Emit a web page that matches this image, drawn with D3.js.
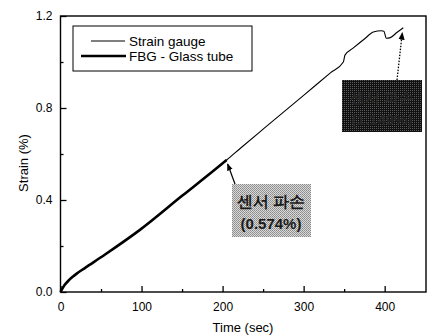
<!DOCTYPE html>
<html>
<head>
<meta charset="utf-8">
<script src="https://cdn.jsdelivr.net/npm/d3@7"></script>
<style>
  body { margin: 0; background: #fff; }
  text { font-family: "Liberation Sans", Arial, sans-serif; }
</style>
</head>
<body>
<div id="chart"></div>
<script>
// strain gauge readings (time in sec, strain in %)
var gaugeTime   = [0, 5, 10, 15, 20, 30, 55, 98, 150, 188, 205, 222, 250, 300, 333, 349, 351, 361, 375, 386, 396, 399, 402, 407, 415, 423];
var gaugeStrain = [0, 0.03, 0.05, 0.066, 0.08, 0.104, 0.163, 0.27, 0.418, 0.525, 0.574, 0.625, 0.708, 0.855, 0.953, 1.0, 1.03, 1.06, 1.1, 1.13, 1.136, 1.134, 1.103, 1.106, 1.128, 1.149];
// FBG stops when the sensor breaks
var fbgTime   = [0, 5, 10, 15, 20, 30, 55, 98, 150, 188, 205];
var fbgStrain = [0, 0.03, 0.05, 0.066, 0.08, 0.104, 0.163, 0.27, 0.418, 0.525, 0.574];

var xTicks = [0, 100, 200, 300, 400];
var yTicks = [0.0, 0.4, 0.8, 1.2];
var seriesNames = ["Strain gauge", "FBG - Glass tube"];

var width = 428, height = 335;
var margin = {top: 16, right: 2, bottom: 43, left: 60.5};

var svg = d3.select("#chart").append("svg")
    .attr("width", width)
    .attr("height", height);

var x = d3.scaleLinear().domain([0, 451]).range([margin.left, width - margin.right]);
var y = d3.scaleLinear().domain([0, 1.2]).range([height - margin.bottom, margin.top]);

var defs = svg.append("defs");
defs.append("marker")
    .attr("id", "arrow")
    .attr("viewBox", "0 0 10 10")
    .attr("refX", 9).attr("refY", 5)
    .attr("markerWidth", 6).attr("markerHeight", 6)
    .attr("orient", "auto")
  .append("path")
    .attr("d", "M0,1 L10,5 L0,9 Z")
    .attr("fill", "#000");

// axes, ticks pointing inward
var xAxis = d3.axisBottom(x).tickValues(xTicks).tickSizeInner(-6).tickSizeOuter(0).tickPadding(10);
var xMinor = d3.axisBottom(x).tickValues([50, 150, 250, 350]).tickSize(-3).tickFormat("");
var yAxis = d3.axisLeft(y).tickValues(yTicks).tickSizeInner(-6).tickSizeOuter(0).tickPadding(8).tickFormat(d3.format(".1f"));
var yMinor = d3.axisLeft(y).tickValues([0.2, 0.6, 1.0]).tickSize(-3).tickFormat("");

function styleAxis(g) {
  g.select(".domain").remove();
  g.selectAll("line").attr("stroke", "#000").attr("stroke-width", 1.3);
  g.selectAll("text").attr("font-size", 12).attr("fill", "#000");
}

svg.append("g").attr("transform", "translate(0," + y(0) + ")").call(xAxis).call(styleAxis);
svg.append("g").attr("transform", "translate(0," + y(0) + ")").call(xMinor).call(styleAxis);
svg.append("g").attr("transform", "translate(" + x(0) + ",0)").call(yAxis).call(styleAxis);
svg.append("g").attr("transform", "translate(" + x(0) + ",0)").call(yMinor).call(styleAxis);

// frame
svg.append("rect")
    .attr("x", x(0)).attr("y", y(1.2))
    .attr("width", x(451) - x(0)).attr("height", y(0) - y(1.2))
    .attr("fill", "none").attr("stroke", "#000").attr("stroke-width", 1.4);

// axis titles
svg.append("text")
    .attr("x", 243).attr("y", 332)
    .attr("text-anchor", "middle").attr("font-size", 13)
    .text("Time (sec)");
svg.append("text")
    .attr("transform", "translate(28,163) rotate(-90)")
    .attr("text-anchor", "middle").attr("font-size", 13)
    .text("Strain (%)");

var line = d3.line()
    .x(function(d) { return x(d[0]); })
    .y(function(d) { return y(d[1]); })
    .curve(d3.curveMonotoneX);

svg.append("path")
    .datum(d3.zip(gaugeTime, gaugeStrain))
    .attr("d", line)
    .attr("fill", "none").attr("stroke", "#000").attr("stroke-width", 1.1)
    .attr("stroke-linejoin", "round");

svg.append("path")
    .datum(d3.zip(fbgTime, fbgStrain))
    .attr("d", line)
    .attr("fill", "none").attr("stroke", "#000").attr("stroke-width", 2.6)
    .attr("stroke-linejoin", "round");

// legend
var legend = svg.append("g");
legend.append("rect")
    .attr("x", 73).attr("y", 26).attr("width", 179).attr("height", 45)
    .attr("fill", "#fff").attr("stroke", "#000").attr("stroke-width", 1);
legend.append("line").attr("x1", 91).attr("x2", 125).attr("y1", 41).attr("y2", 41)
    .attr("stroke", "#000").attr("stroke-width", 1);
legend.append("line").attr("x1", 81).attr("x2", 126).attr("y1", 56).attr("y2", 56)
    .attr("stroke", "#000").attr("stroke-width", 2.4);
legend.selectAll("text.lg").data(seriesNames).enter().append("text")
    .attr("x", 129).attr("y", function(d, i) { return 45.5 + i * 15; })
    .attr("font-size", 13.5)
    .text(function(d) { return d; });

// annotation: FBG break point
var halftone = defs.append("pattern")
    .attr("id", "dots").attr("width", 2).attr("height", 2)
    .attr("patternUnits", "userSpaceOnUse");
halftone.append("rect").attr("width", 2).attr("height", 2).attr("fill", "#d8d8d8");
halftone.append("rect").attr("width", 1).attr("height", 1).attr("fill", "#8a8a8a");
halftone.append("rect").attr("x", 1).attr("y", 1).attr("width", 1).attr("height", 1).attr("fill", "#9a9a9a");

svg.append("rect")
    .attr("x", 232).attr("y", 184).attr("width", 79).attr("height", 53)
    .attr("fill", "url(#dots)");
svg.append("line")
    .attr("x1", 235).attr("y1", 184).attr("x2", x(205) + 1).attr("y2", y(0.574) + 4)
    .attr("stroke", "#000").attr("stroke-width", 1.2)
    .attr("marker-end", "url(#arrow)");
svg.append("text")
    .attr("x", 271).attr("y", 207).attr("text-anchor", "middle")
    .attr("font-size", 15.5).attr("font-weight", "bold").attr("fill", "#1a1a1a")
    .attr("font-family", "'Noto Sans CJK KR', sans-serif")
    .text("센서 파손");
svg.append("text")
    .attr("x", 271).attr("y", 229).attr("text-anchor", "middle")
    .attr("font-size", 15).attr("font-weight", "bold").attr("fill", "#1a1a1a")
    .text("(0.574%)");

// annotation: strain gauge end (printed dark)
var dark = defs.append("pattern")
    .attr("id", "darkdots").attr("width", 2).attr("height", 2)
    .attr("patternUnits", "userSpaceOnUse");
dark.append("rect").attr("width", 2).attr("height", 2).attr("fill", "#111");
dark.append("rect").attr("width", 1).attr("height", 1).attr("fill", "#5a5a5a");

svg.append("rect")
    .attr("x", 342).attr("y", 80).attr("width", 80).attr("height", 52)
    .attr("fill", "url(#darkdots)");
svg.append("line")
    .attr("x1", 397).attr("y1", 80).attr("x2", x(423) - 1).attr("y2", y(1.149) + 5)
    .attr("stroke", "#000").attr("stroke-width", 1.3)
    .attr("stroke-dasharray", "1.5,1.5")
    .attr("marker-end", "url(#arrow)");
svg.append("text")
    .attr("x", 382).attr("y", 103).attr("text-anchor", "middle")
    .attr("font-size", 15).attr("font-weight", "bold").attr("fill", "#262626")
    .attr("font-family", "'Noto Sans CJK KR', sans-serif")
    .text("센서 파손");
svg.append("text")
    .attr("x", 382).attr("y", 125).attr("text-anchor", "middle")
    .attr("font-size", 15).attr("font-weight", "bold").attr("fill", "#262626")
    .text("(1.149%)");
</script>
</body>
</html>
